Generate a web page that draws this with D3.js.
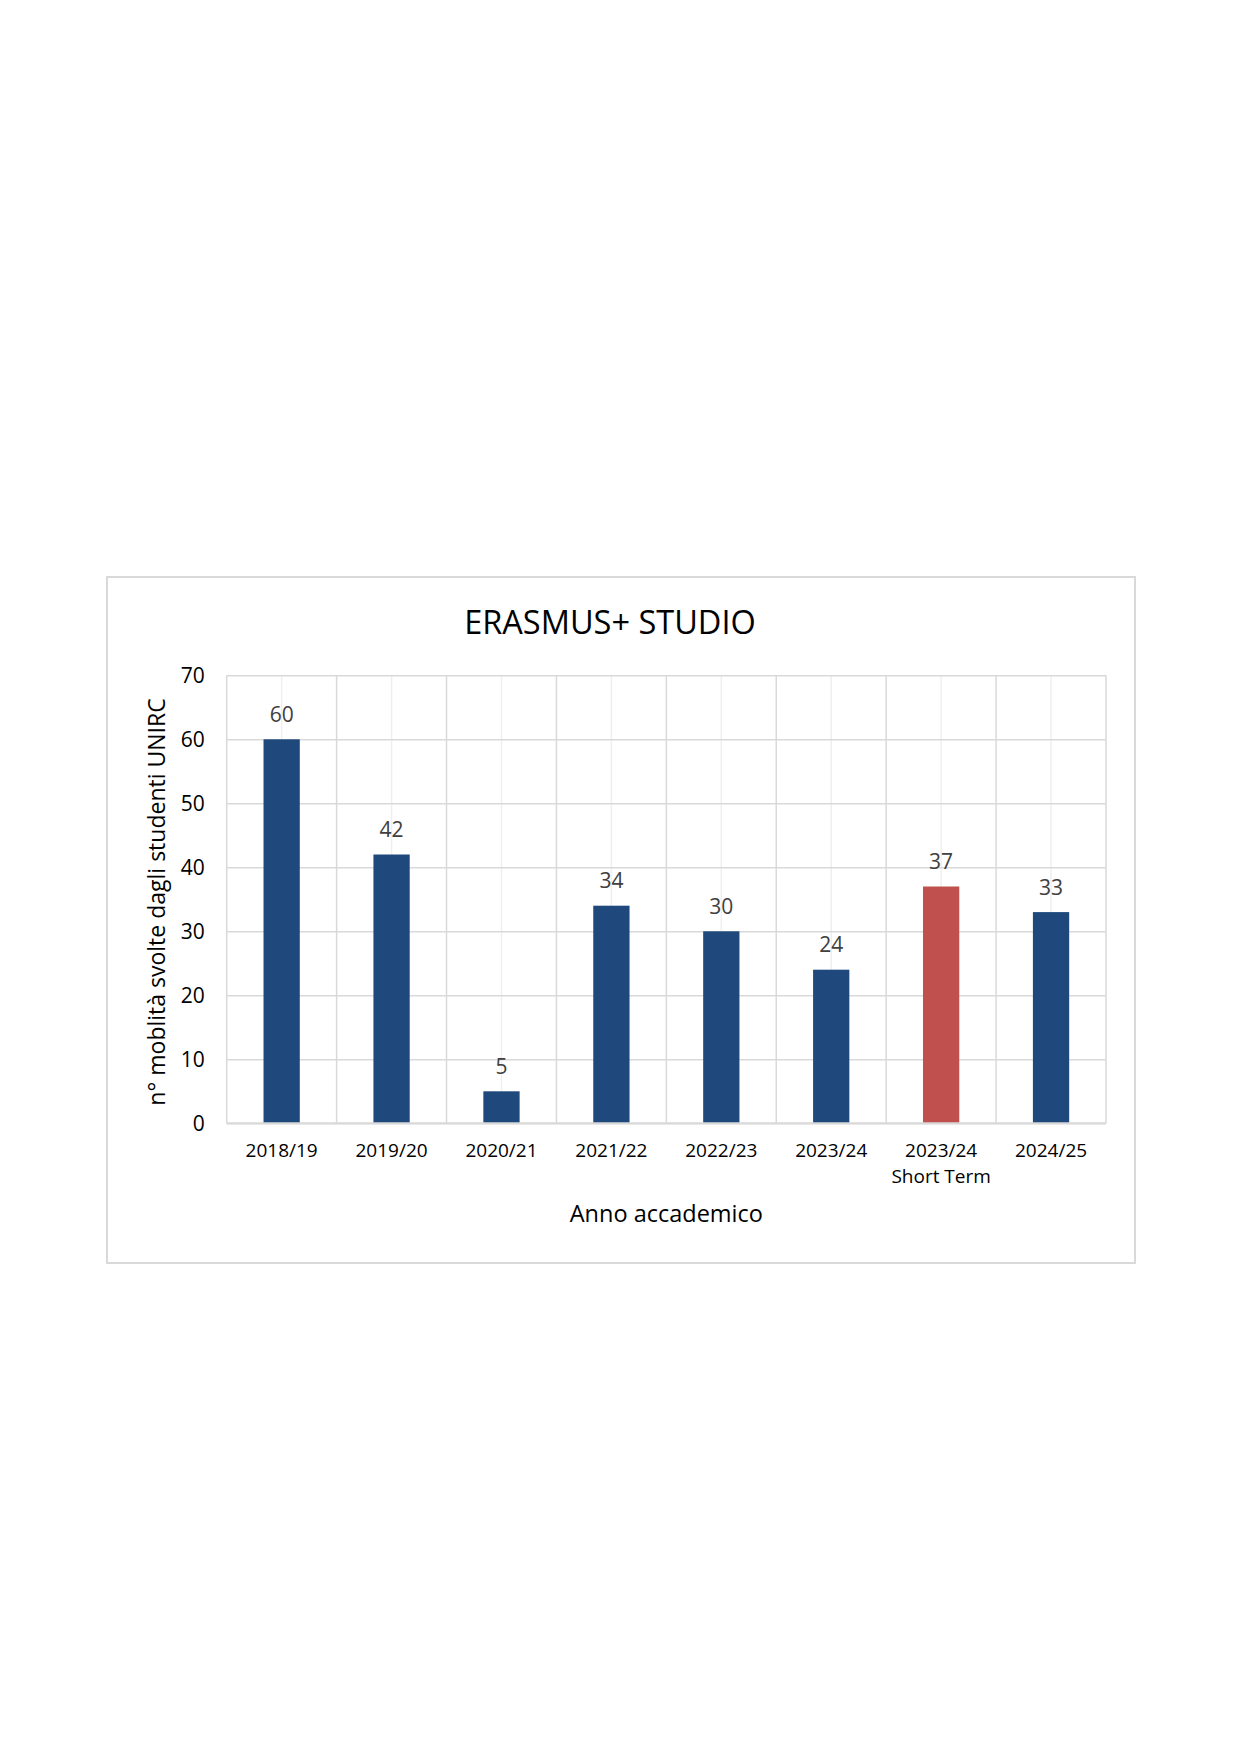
<!DOCTYPE html>
<html>
<head>
<meta charset="utf-8">
<script src="https://cdn.jsdelivr.net/npm/d3@7"></script>
<style>
  body { margin: 0; background: #fff; }
  svg { display: block; }
</style>
</head>
<body>
<div class="container"></div>
<script>
var categories = ['2018/19', '2019/20', '2020/21', '2021/22', '2022/23', '2023/24', '2023/24\nShort Term', '2024/25'];
var values = [60, 42, 5, 34, 30, 24, 37, 33];
var yTicks = [0, 10, 20, 30, 40, 50, 60, 70];

var data = categories.map(function(c, i) {
  return { cat: c, value: values[i] };
});

buildChart();

function buildChart() {

  /* page and chart frame */
  var w = 1241;
  var h = 1755;
  var left = 226.7, right = 1106, top = 675.3, bottom = 1123.3;
  var font = "'Open Sans', sans-serif";

  var svg = d3.select('.container')
    .append('svg')
    .attr('width', w)
    .attr('height', h);

  svg.append('rect')
    .attr('x', 107)
    .attr('y', 577)
    .attr('width', 1028)
    .attr('height', 686)
    .attr('fill', '#fff')
    .attr('stroke', '#d9d9d9')
    .attr('stroke-width', 2);

  var xScale = d3.scaleBand()
    .domain(categories)
    .range([left, right]);

  var yScale = d3.scaleLinear()
    .domain([0, 70])
    .range([bottom, top]);

  /* light lines in the middle of each category */
  svg.append('g')
    .selectAll('line')
    .data(categories)
    .enter()
    .append('line')
    .attr('x1', function(d) { return xScale(d) + xScale.bandwidth() / 2; })
    .attr('x2', function(d) { return xScale(d) + xScale.bandwidth() / 2; })
    .attr('y1', top)
    .attr('y2', bottom)
    .attr('stroke', '#efefef')
    .attr('stroke-width', 1.5);

  /* category boundaries */
  var bounds = categories.map(function(d) { return xScale(d); }).concat([right]);
  svg.append('g')
    .selectAll('line')
    .data(bounds)
    .enter()
    .append('line')
    .attr('x1', function(d) { return d; })
    .attr('x2', function(d) { return d; })
    .attr('y1', top)
    .attr('y2', bottom)
    .attr('stroke', '#d9d9d9')
    .attr('stroke-width', 1.5);

  /* y axis with gridlines */
  var yAxis = d3.axisLeft()
    .scale(yScale)
    .tickValues(yTicks)
    .tickSize(-(right - left))
    .tickPadding(22);

  var gy = svg.append('g')
    .attr('transform', 'translate(' + left + ',0)')
    .call(yAxis);
  gy.select('.domain').remove();
  gy.selectAll('line')
    .attr('stroke', '#d9d9d9')
    .attr('stroke-width', 1.5);
  gy.selectAll('text')
    .style('font', '21px ' + font)
    .attr('fill', '#000');

  /* bars */
  var barW = xScale.bandwidth() * 0.33;
  var group = svg.selectAll('g.bar')
    .data(data)
    .enter()
    .append('g')
    .attr('class', 'bar');

  group.append('rect')
    .attr('x', function(d) { return xScale(d.cat) + (xScale.bandwidth() - barW) / 2; })
    .attr('y', function(d) { return yScale(d.value); })
    .attr('width', barW)
    .attr('height', function(d) { return yScale(0) - yScale(d.value); })
    .attr('fill', function(d) {
      if (d.cat.indexOf('Short Term') >= 0) {
        return '#c0504d';
      }
      return '#1f497d';
    });

  /* value labels */
  group.append('text')
    .attr('x', function(d) { return xScale(d.cat) + xScale.bandwidth() / 2; })
    .attr('y', function(d) { return yScale(d.value) - 17.6; })
    .attr('text-anchor', 'middle')
    .style('font', '21px ' + font)
    .attr('fill', '#404040')
    .text(function(d) { return d.value; });

  /* x axis labels */
  var xAxis = d3.axisBottom()
    .scale(xScale)
    .tickSize(0)
    .tickFormat('');
  var gx = svg.append('g')
    .attr('transform', 'translate(0,' + bottom + ')')
    .call(xAxis);
  gx.select('.domain').remove();

  gx.selectAll('.tick')
    .each(function(d) {
      var lines = d.split('\n');
      var t = d3.select(this).append('text')
        .attr('text-anchor', 'middle')
        .style('font', '19px ' + font)
        .attr('fill', '#000');
      lines.forEach(function(l, i) {
        t.append('tspan')
          .attr('x', 0)
          .attr('y', 34.2 + i * 26)
          .text(l);
      });
    });

  /* baseline */
  svg.append('line')
    .attr('x1', left)
    .attr('x2', right)
    .attr('y1', bottom)
    .attr('y2', bottom)
    .attr('stroke', '#d9d9d9')
    .attr('stroke-width', 2);

  /* titles */
  svg.append('text')
    .attr('x', 610)
    .attr('y', 634.3)
    .attr('text-anchor', 'middle')
    .style('font', '32.5px ' + font)
    .attr('fill', '#000')
    .text('ERASMUS+ STUDIO');

  svg.append('text')
    .attr('x', (left + right) / 2)
    .attr('y', 1222.3)
    .attr('text-anchor', 'middle')
    .style('font', '23.5px ' + font)
    .attr('fill', '#000')
    .text('Anno accademico');

  svg.append('text')
    .attr('transform', 'translate(165,902) rotate(-90)')
    .attr('text-anchor', 'middle')
    .style('font', '23px ' + font)
    .attr('fill', '#000')
    .text('n° moblità svolte dagli studenti UNIRC');
}
</script>
</body>
</html>
